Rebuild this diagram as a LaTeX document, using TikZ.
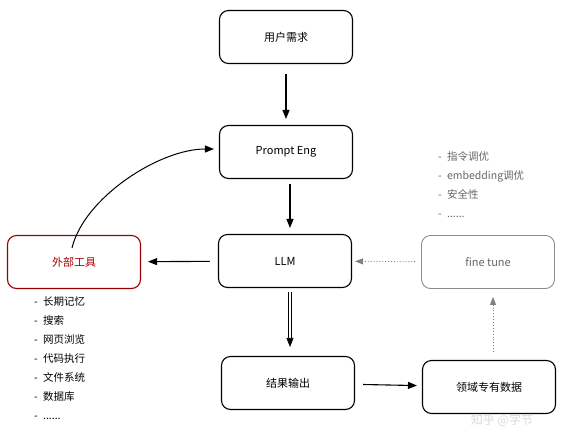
\documentclass[tikz,border=0pt]{standalone}
\usepackage{fontspec}
\setmainfont{Noto Sans CJK SC}
\usetikzlibrary{arrows.meta}
\begin{document}
\begin{tikzpicture}[x=1pt,y=-1pt,
  box/.style={draw=black,line width=1.1pt,rounded corners=9pt,minimum width=133pt,minimum height=53pt,font=\fontsize{11}{13}\selectfont,inner sep=0pt},
  redbox/.style={box,draw=red!60!black,text=red!65!black},
  graybox/.style={box,draw=black!45,text=black!60,line width=0.9pt},
  arr/.style={line width=1.1pt,-{Triangle[length=9pt,width=7pt]}},
  dotarr/.style={line width=0.9pt,black!50,dotted,-{Triangle[length=8pt,width=6pt]}},
  listtext/.style={align=left,anchor=north west,inner sep=0pt,font=\fontsize{10.5}{19}\selectfont}
]
\useasboundingbox (0,0) rectangle (578,442);
\node[box] (req) at (286,37) {用户需求};
\node[box] (pe) at (286,152) {Prompt Eng};
\node[box] (llm) at (285,261) {LLM};
\node[redbox] (ext) at (74,262) {外部工具};
\node[graybox] (ft) at (488,262) {fine tune};
\node[box] (out) at (288,383) {结果输出};
\node[box] (dom) at (489,387) {领域专有数据};

\draw[arr,shorten <=10pt,shorten >=6pt] (req) -- (pe);
\draw[arr,shorten <=5pt,shorten >=6pt] ([xshift=4pt]pe.south) -- ([xshift=5pt]llm.north);
\draw[line width=0.6pt,double,double distance=2pt,shorten <=4pt,shorten >=9pt,-{Triangle[length=9pt,width=7pt]}] ([xshift=5pt]llm.south) -- ([xshift=2pt]out.north);
\draw[arr,shorten <=8pt,shorten >=7pt] (llm) -- (ext);
\draw[arr,shorten <=8pt,shorten >=5pt] (out) -- (dom);
\draw[line width=1pt,-{Triangle[length=9pt,width=7pt]},shorten >=5pt] ([xshift=-2pt,yshift=-13pt]ext.north) .. controls +(12,-50) and +(-60,0) .. ([yshift=3pt]pe.west);
\draw[dotarr,shorten <=6pt,shorten >=3pt] (ft) -- (llm);
\draw[dotarr,shorten <=8pt,shorten >=8pt] ([xshift=4pt]dom.north) -- ([xshift=5pt]ft.south);

\node[listtext] (tools) at (34,296) {-\enspace 长期记忆\\-\enspace 搜索\\-\enspace 网页浏览\\-\enspace 代码执行\\-\enspace 文件系统\\-\enspace 数据库\\-\enspace ......};
\node[listtext,text=black!60] (ftlist) at (438,151) {-\enspace 指令调优\\-\enspace embedding调优\\-\enspace 安全性\\-\enspace ......};
\node[text=black!15,font=\fontsize{12}{14}\selectfont,inner sep=0pt] (wm) at (502,420) {知乎 @字节};
\end{tikzpicture}
\end{document}
